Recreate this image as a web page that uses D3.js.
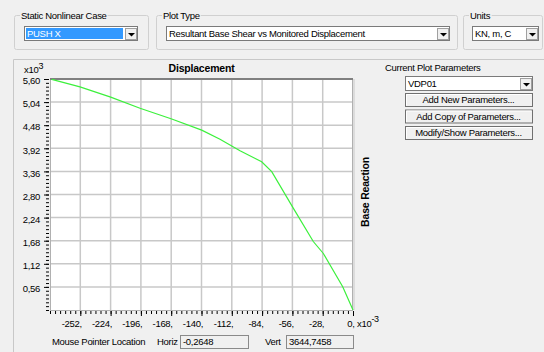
<!DOCTYPE html>
<html>
<head>
<meta charset="utf-8">
<script src="https://cdn.jsdelivr.net/npm/d3@7/dist/d3.min.js"></script>
<style>
  body { margin: 0; background: #f0f0f0; }
  svg { display: block; font-family: "Liberation Sans", Arial, sans-serif; font-size: 9.5px; letter-spacing: -0.3px; }
</style>
</head>
<body>
<svg id="chart" width="544" height="352"></svg>
<script>
// pushover curve, displacement in 1e-3 m, base reaction in 1e3 kN
var displacement = [0, -9.5, -27.4, -36.7, -55.2, -75.1, -84.4, -104.4, -122.9, -139.8, -167.5, -196.8, -223.9, -252.3, -278.4];
var baseReaction = [0, 0.565, 1.37, 1.66, 2.47, 3.353, 3.595, 3.86, 4.14, 4.36, 4.63, 4.89, 5.16, 5.41, 5.59];

var xTicks = [-252, -224, -196, -168, -140, -112, -84, -56, -28, 0];
var yTicks = [0.56, 1.12, 1.68, 2.24, 2.80, 3.36, 3.92, 4.48, 5.04, 5.60];
var buttonLabels = ["Add New Parameters...", "Add Copy of Parameters...", "Modify/Show Parameters..."];

var svg = d3.select("#chart");

var plotL = 50, plotR = 353, plotT = 79, plotB = 310;

var x = d3.scaleLinear().domain([-280, 0]).range([plotL, plotR]);
var y = d3.scaleLinear().domain([0, 5.6]).range([plotB, plotT]);

// --- helpers for the dialog widgets
function groupBox(x0, y0, w, h, label) {
  svg.append("rect")
    .attr("x", x0 + 0.5).attr("y", y0 + 0.5)
    .attr("width", w).attr("height", h)
    .attr("rx", 2)
    .attr("fill", "none")
    .attr("stroke", "#d0d0d0");
  var t = svg.append("text")
    .attr("x", x0 + 7).attr("y", y0 + 4)
    .attr("fill", "#000")
    .text(label);
  var bb = t.node().getBBox();
  svg.insert("rect", "text:last-of-type")
    .attr("x", bb.x - 1).attr("y", y0 - 2)
    .attr("width", bb.width + 2).attr("height", 5)
    .attr("fill", "#f0f0f0");
}

function dropButton(x0, y0, w, h) {
  svg.append("rect")
    .attr("x", x0 + 0.5).attr("y", y0 + 0.5)
    .attr("width", w - 1).attr("height", h - 1)
    .attr("fill", "#f0f0f0")
    .attr("stroke", "#a0a0a0");
  var cx = x0 + w / 2, cy = y0 + h / 2;
  svg.append("path")
    .attr("d", "M" + (cx - 3) + "," + (cy - 1) + "h7l-3.5,3.5z")
    .attr("fill", "#000");
}

function comboBox(x0, y0, w, h, label, selected) {
  svg.append("rect")
    .attr("x", x0 + 0.5).attr("y", y0 + 0.5)
    .attr("width", w).attr("height", h)
    .attr("fill", "#fff")
    .attr("stroke", "#7a7a7a");
  if (selected) {
    svg.append("rect")
      .attr("x", x0 + 2).attr("y", y0 + 2)
      .attr("width", w - 16).attr("height", h - 3)
      .attr("fill", "#3399ff");
  }
  svg.append("text")
    .attr("x", x0 + 3).attr("y", y0 + h / 2 + 3.5)
    .attr("fill", selected ? "#fff" : "#000")
    .text(label);
  dropButton(x0 + w - 12, y0 + 2, 12, h - 2);
}

function button(x0, y0, w, h, label) {
  svg.append("rect")
    .attr("x", x0 + 0.5).attr("y", y0 + 0.5)
    .attr("width", w).attr("height", h)
    .attr("fill", "#f0f0f0")
    .attr("stroke", "#707070");
  svg.append("path")
    .attr("d", "M" + (x0 + 1.5) + "," + (y0 + h - 0.5) + "V" + (y0 + 1.5) + "H" + (x0 + w - 0.5))
    .attr("fill", "none")
    .attr("stroke", "#fff");
  svg.append("text")
    .attr("x", x0 + w / 2).attr("y", y0 + h / 2 + 3.5)
    .attr("text-anchor", "middle")
    .text(label);
}

function textBox(x0, y0, w, h, label) {
  svg.append("rect")
    .attr("x", x0 + 0.5).attr("y", y0 + 0.5)
    .attr("width", w).attr("height", h)
    .attr("fill", "#f0f0f0")
    .attr("stroke", "#8a8a8a");
  svg.append("text")
    .attr("x", x0 + 3).attr("y", y0 + h / 2 + 3.5)
    .text(label);
}

// --- top controls
groupBox(14, 15, 134, 34, "Static Nonlinear Case");
comboBox(24, 26, 113, 14, "PUSH X", true);

groupBox(156, 15, 301, 34, "Plot Type");
comboBox(166, 26, 283, 14, "Resultant Base Shear vs Monitored Displacement", false);

groupBox(463, 15, 79, 34, "Units");
comboBox(472, 26, 66, 14, "KN, m, C", false);

// frame round the plot panel
svg.append("path")
  .attr("d", "M13.5,352V59.5H544")
  .attr("fill", "none")
  .attr("stroke", "#c8c8c8");

// --- plot area
svg.append("rect")
  .attr("x", plotL).attr("y", plotT)
  .attr("width", plotR - plotL).attr("height", plotB - plotT)
  .attr("fill", "#fff");

svg.append("g")
  .selectAll("line")
  .data(xTicks.slice(0, -1))
  .enter().append("line")
  .attr("x1", function (d) { return x(d); })
  .attr("x2", function (d) { return x(d); })
  .attr("y1", plotT).attr("y2", plotB)
  .attr("stroke", "#c8c8c8")
  .attr("stroke-width", 1.5);

svg.append("g")
  .selectAll("line")
  .data(yTicks.slice(0, -1))
  .enter().append("line")
  .attr("x1", plotL).attr("x2", plotR)
  .attr("y1", function (d) { return y(d); })
  .attr("y2", function (d) { return y(d); })
  .attr("stroke", "#c8c8c8")
  .attr("stroke-width", 1.5);

// border: top dark, others light
svg.append("rect")
  .attr("x", plotL + 0.5).attr("y", plotT + 0.5)
  .attr("width", plotR - plotL - 1).attr("height", plotB - plotT)
  .attr("fill", "none")
  .attr("stroke", "#b0b0b0");
svg.append("line")
  .attr("x1", plotL).attr("x2", plotR)
  .attr("y1", plotT).attr("y2", plotT)
  .attr("stroke", "#808080")
  .attr("stroke-width", 2);
svg.append("line")
  .attr("x1", plotR + 1).attr("x2", plotR + 1)
  .attr("y1", plotT).attr("y2", plotB)
  .attr("stroke", "#dcdcdc")
  .attr("stroke-width", 2);

// curve
var pts = displacement.map(function (d, i) { return [d, baseReaction[i]]; });
var line = d3.line()
  .x(function (d) { return x(d[0]); })
  .y(function (d) { return y(d[1]); });

svg.append("path")
  .datum(pts)
  .attr("d", line)
  .attr("fill", "none")
  .attr("stroke", "#3cf03c")
  .attr("stroke-width", 1.2);

// --- axes
var fmtX = function (d) { return d + ","; };
var fmtY = function (d) { return d.toFixed(2).replace(".", ","); };

var xMinor = d3.axisBottom(x).tickValues(d3.range(-280, 0.001, 28 / 6)).tickSize(3).tickFormat("");
var xMajor = d3.axisBottom(x).tickValues(xTicks).tickSize(5).tickPadding(4).tickFormat(fmtX);

var gxm = svg.append("g").attr("transform", "translate(0," + (plotB + 1) + ")").call(xMinor);
var gx = svg.append("g").attr("transform", "translate(0," + (plotB + 1) + ")").call(xMajor);
[gxm, gx].forEach(function (g) {
  g.select(".domain").remove();
  g.selectAll("line").attr("stroke", "#000");
});
gx.attr("font-family", null).attr("font-size", null);
gx.selectAll("text")
  .attr("text-anchor", "end")
  .attr("dx", "1")
  .attr("fill", "#000");

var yMinor = d3.axisLeft(y).tickValues(d3.range(0, 5.6001, 0.56 / 6)).tickSize(3).tickFormat("");
var yMajor = d3.axisLeft(y).tickValues(yTicks).tickSize(5).tickPadding(4).tickFormat(fmtY);

var gym = svg.append("g").attr("transform", "translate(" + (plotL - 1) + ",0)").call(yMinor);
var gy = svg.append("g").attr("transform", "translate(" + (plotL - 1) + ",0)").call(yMajor);
[gym, gy].forEach(function (g) {
  g.select(".domain").remove();
  g.selectAll("line").attr("stroke", "#000");
});
gy.attr("font-family", null).attr("font-size", null);
gy.selectAll("text").attr("fill", "#000").attr("dy", "0.5em");

// axis multipliers
var ym = svg.append("text").attr("x", 24).attr("y", 73);
ym.append("tspan").text("x10");
ym.append("tspan").attr("dy", -4).attr("font-size", 9).text("3");

var xm = svg.append("text").attr("x", 357).attr("y", 327);
xm.append("tspan").text("x10");
xm.append("tspan").attr("dy", -5).attr("font-size", 9).text("-3");

// titles
svg.append("text")
  .attr("x", (plotL + plotR) / 2).attr("y", 72)
  .attr("text-anchor", "middle")
  .attr("font-weight", "bold")
  .attr("font-size", 10.5)
  .attr("letter-spacing", "-0.2px")
  .text("Displacement");

svg.append("text")
  .attr("transform", "translate(369,192) rotate(-90)")
  .attr("text-anchor", "middle")
  .attr("font-weight", "bold")
  .attr("font-size", 10.5)
  .attr("letter-spacing", "-0.2px")
  .text("Base Reaction");

// --- right panel
svg.append("text").attr("x", 385).attr("y", 71).text("Current Plot Parameters");
comboBox(405, 76, 127, 14, "VDP01", false);

buttonLabels.forEach(function (d, i) {
  button(405, 93 + i * 16.5, 127, 13, d);
});

// --- bottom status
svg.append("text").attr("x", 52).attr("y", 345).text("Mouse Pointer Location");
svg.append("text").attr("x", 157).attr("y", 345).text("Horiz");
textBox(180, 335, 68, 13, "-0,2648");
svg.append("text").attr("x", 265).attr("y", 345).text("Vert");
textBox(286, 335, 67, 13, "3644,7458");
</script>
</body>
</html>
